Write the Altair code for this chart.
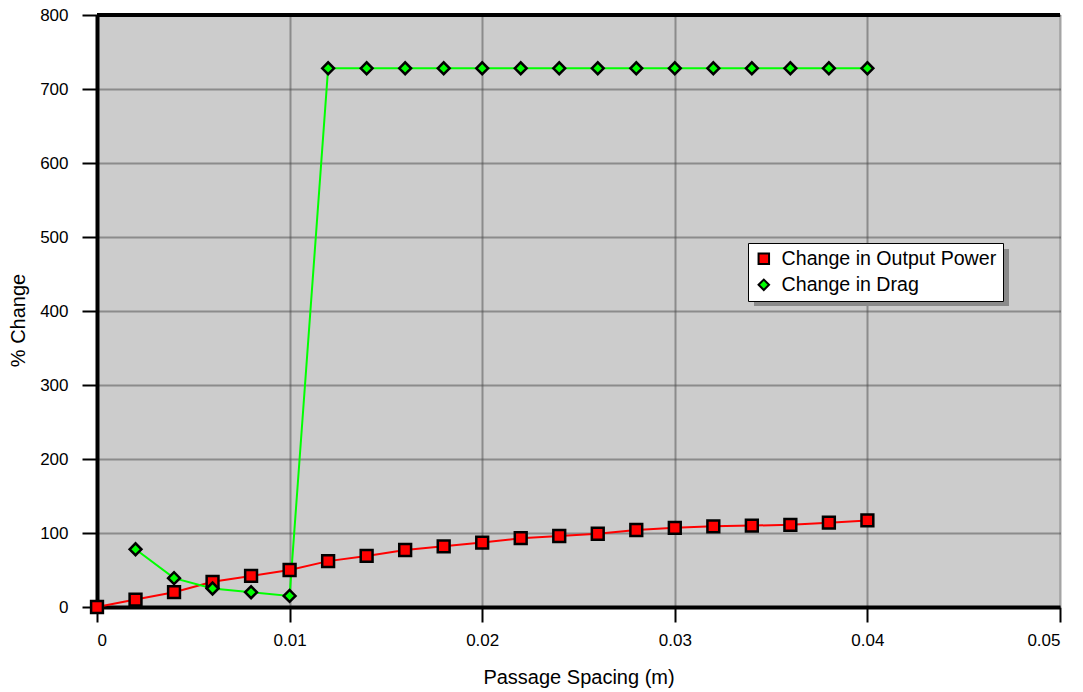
import altair as alt
import pandas as pd

# Passage spacing (m) for every sample point
spacing = [0.000, 0.002, 0.004, 0.006, 0.008, 0.010, 0.012, 0.014, 0.016, 0.018,
           0.020, 0.022, 0.024, 0.026, 0.028, 0.030, 0.032, 0.034, 0.036, 0.038, 0.040]

# % change in output power at each spacing
power_change = [0, 10, 20, 34, 42, 50, 62, 69, 77, 82,
                87, 93, 96, 99, 104, 107, 109, 110, 111, 114, 117]

# % change in drag (no value at zero spacing)
drag_spacing = spacing[1:]
drag_change = [78, 39, 25, 20, 15, 728, 728, 728, 728,
               728, 728, 728, 728, 728, 728, 728, 728, 728, 728, 728]

series_names = ["Change in Output Power", "Change in Drag"]
series_colors = ["#ff0000", "#00ff00"]
series_shapes = ["square", "diamond"]

df = pd.concat([
    pd.DataFrame({"spacing": spacing, "change": power_change, "series": series_names[0]}),
    pd.DataFrame({"spacing": drag_spacing, "change": drag_change, "series": series_names[1]}),
], ignore_index=True)

FONT = "Liberation Sans"
GRID = "#4a4a4a"

x_enc = alt.X(
    "spacing:Q",
    title="Passage Spacing (m)",
    scale=alt.Scale(domain=[0, 0.05], nice=False),
    axis=alt.Axis(
        values=[0, 0.01, 0.02, 0.03, 0.04, 0.05],
        format="~g",
        grid=True,
        gridColor=GRID,
        gridWidth=2,
        gridDash=[1, 1],
        domainColor="black",
        domainWidth=4,
        tickColor="black",
        tickWidth=2,
        tickSize=15,
        labelFont=FONT,
        labelFontSize=17,
        labelColor="black",
        labelPadding=10,
        titleFont=FONT,
        titleFontSize=20,
        titleFontWeight="normal",
        titleColor="black",
        titleBaseline="middle",
        titleY=70,
    ),
)

y_enc = alt.Y(
    "change:Q",
    title="% Change",
    scale=alt.Scale(domain=[0, 800], nice=False),
    axis=alt.Axis(
        values=list(range(0, 801, 100)),
        grid=True,
        gridColor=GRID,
        gridWidth=2,
        gridDash=[1, 1],
        domainColor="black",
        domainWidth=4,
        tickColor="black",
        tickWidth=2,
        tickSize=15,
        labelFont=FONT,
        labelFontSize=17,
        labelColor="black",
        labelPadding=14,
        titleFont=FONT,
        titleFontSize=20,
        titleFontWeight="normal",
        titleColor="black",
        titleBaseline="middle",
        titleX=-79,
        titleY=305,
    ),
)

series_legend = alt.Legend(
    title=None,
    orient="none",
    legendX=651,
    legendY=228,
    fillColor="white",
    strokeColor="black",
    padding=6,
    labelFont=FONT,
    labelFontSize=19.6,
    labelColor="black",
    labelLimit=400,
    labelOffset=8,
    symbolStrokeWidth=2,
    symbolSize=110,
    symbolOpacity=1,
    rowPadding=5,
)

# one connecting line per series
line_layers = [
    alt.Chart(df)
    .transform_filter(alt.datum.series == name)
    .mark_line(strokeWidth=2, color=col)
    .encode(x=x_enc, y=y_enc)
    for name, col in zip(series_names, series_colors)
]

points = alt.Chart(df).mark_point(
    filled=True, strokeWidth=2.5, opacity=1, size=140
).encode(
    x="spacing:Q",
    y="change:Q",
    fill=alt.Fill("series:N", scale=alt.Scale(domain=series_names, range=series_colors), legend=series_legend),
    stroke=alt.Stroke("series:N", scale=alt.Scale(domain=series_names, range=["black", "black"]), legend=series_legend),
    shape=alt.Shape("series:N", scale=alt.Scale(domain=series_names, range=series_shapes), legend=series_legend),
)

# solid frame along the top of the plot area
top_border = alt.Chart(df).mark_rule(color="black", strokeWidth=2.5).encode(y=alt.datum(800))

# drop shadow behind the legend box
legend_shadow = alt.Chart(df).mark_rect(color="#8a8a8a").encode(
    x=alt.value(657), x2=alt.value(912), y=alt.value(234), y2=alt.value(291)
)

# thin page rule under the chart
page_rule = alt.Chart(df).mark_rule(color="#c8c8c8", strokeWidth=1.5).encode(
    x=alt.value(-97), x2=alt.value(986), y=alt.value(680)
)

chart = alt.layer(legend_shadow, *line_layers, points, top_border, page_rule).properties(
    width=963,
    height=592,
    autosize=alt.AutoSizeParams(type="none"),
    padding={"left": 97, "top": 15, "right": 23, "bottom": 85},
    background="white",
).configure_view(
    fill="#cccccc",
    stroke=None,
)

chart.save("out.html", embed_options={"renderer": "svg", "actions": False})
